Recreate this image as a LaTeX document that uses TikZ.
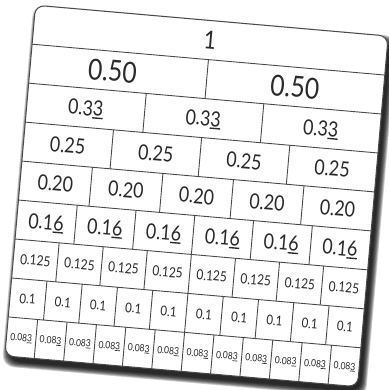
\documentclass[tikz,border=0pt]{standalone}
\usepackage{fontspec}
\setmainfont[FakeStretch=0.85]{Lato}
\definecolor{ink}{HTML}{2A2A2A}
\definecolor{gridc}{HTML}{4A4A4A}
\tikzset{
  lbl/.style={inner sep=0pt, text=ink, anchor=base},
  gridline/.style={draw=gridc, line width=0.9pt},
  cardbox/.style={draw=gridc, line width=1pt, fill=white, rounded corners=9pt},
}
\newsavebox\repbox
\newcommand\rep[1]{\sbox\repbox{#1}\rlap{\rule[-0.12em]{\wd\repbox}{0.065em}}\usebox\repbox}
\newcommand\fwrow[5]{% #1 row, #2 count, #3 label, #4 size, #5 first-cell shift
  \pgfmathsetmacro\ytop{176-(#1-1)*352/9}
  \pgfmathsetmacro\ybot{176-#1*352/9}
  \pgfmathsetmacro\ybase{(\ytop+\ybot)/2-0.36*#4}
  \foreach \k in {1,...,#2}{
    \pgfmathsetmacro\xl{-177+(\k-1)*354/#2}
    \pgfmathsetmacro\xm{-177+(\k-0.5)*354/#2+(\k==1)*#5}
    \node[lbl, font=\fontsize{#4}{#4}\selectfont, rotate=-5] (c#1-\k) at (\xm,\ybase) {#3};
    \ifnum\k>1 \draw[gridline] (\xl,\ytop) -- (\xl,\ybot); \fi
  }
}
\begin{document}
\begin{tikzpicture}[x=1pt,y=1pt]
\useasboundingbox (0,0) rectangle (388,390);
\fill[white] (0,0) rectangle (388,390);
\begin{scope}[shift={(196.5,194)},rotate=-5]
  \foreach \k in {0,...,7}{
    \pgfmathsetmacro\e{7-\k}
    \fill[black, opacity=0.2, rounded corners=12pt]
      (-177+3.5-\e*0.8,-176-5-\e*0.8) rectangle (177+3.5+\e*0.8,176-5+\e*0.8);
  }
  \draw[cardbox] (-177,-176) rectangle (177,176);
  \foreach \i in {1,...,8}{
    \draw[gridline] (-177,{176-\i*352/9}) -- (177,{176-\i*352/9});
  }
  \fwrow{1}{1}{1}{25}{0}
  \fwrow{2}{2}{0.50}{29}{-6}
  \fwrow{3}{3}{0.3\rep{3}}{21}{0}
  \fwrow{4}{4}{0.25}{21}{0}
  \fwrow{5}{5}{0.20}{21}{0}
  \fwrow{6}{6}{0.1\rep{6}}{21}{0}
  \fwrow{7}{8}{0.125}{14}{0}
  \fwrow{8}{10}{0.1}{13.5}{0}
  \fwrow{9}{12}{0.08\rep{3}}{10}{0}
\end{scope}
\end{tikzpicture}
\end{document}
